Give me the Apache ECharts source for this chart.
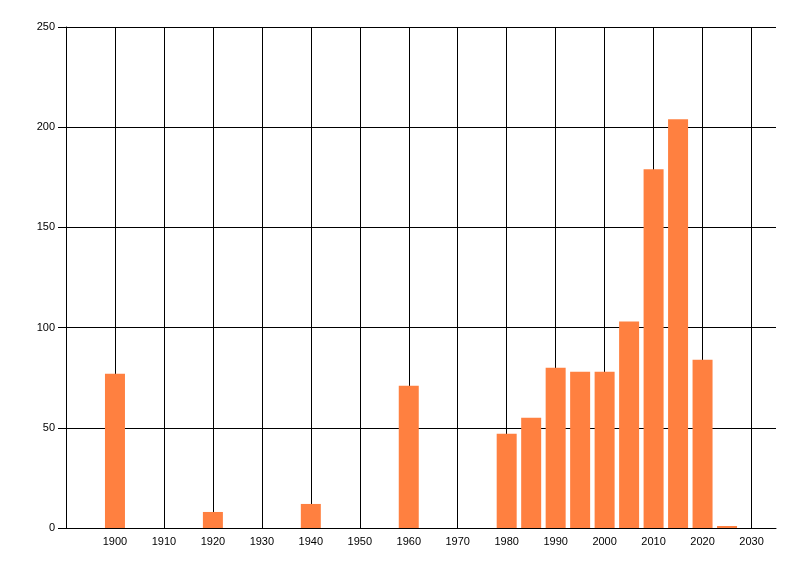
<!DOCTYPE html>
<html>
<head>
<meta charset="utf-8">
<script src="https://cdn.jsdelivr.net/npm/echarts@6/dist/echarts.min.js"></script>
<style>html,body{margin:0;padding:0;background:#fff}#c{width:800px;height:576px}</style>
</head>
<body>
<div id="c"></div>
<script>
var years = [1900, 1920, 1940, 1960, 1980, 1985, 1990, 1995, 2000, 2005, 2010, 2015, 2020, 2025];
var counts = [77, 8, 12, 71, 47, 55, 80, 78, 78, 103, 179, 204, 84, 1];
var yTicks = [0, 50, 100, 150, 200, 250];

var chart = echarts.init(document.getElementById('c'), null, {renderer: 'canvas'});
var data = years.map(function (y, i) { return [y, counts[i]]; });
chart.setOption({
  animation: false,
  grid: {left: 66, right: 24, top: 27, bottom: 48, containLabel: false},
  xAxis: {
    type: 'value', min: 1890, max: 2035, interval: 10,
    axisLine: {show: true, onZero: false, lineStyle: {color: '#000', width: 1}},
    axisTick: {show: false},
    axisLabel: {
      color: '#000', fontFamily: 'Liberation Sans, Arial, sans-serif', fontSize: 11, margin: 8,
      formatter: function (v) { return (v >= 1900 && v <= 2030 && v % 10 === 0) ? String(v) : ''; }
    },
    splitLine: {show: true, showMinLine: false, showMaxLine: false, lineStyle: {color: '#000', width: 1}}
  },
  yAxis: {
    type: 'value', min: 0, max: 250, interval: 50,
    axisLine: {show: true, lineStyle: {color: '#000', width: 1}},
    axisTick: {show: true, length: 8, lineStyle: {color: '#000'}},
    axisLabel: {color: '#000', fontFamily: 'Liberation Sans, Arial, sans-serif', fontSize: 11, margin: 11,
      customValues: yTicks},
    splitLine: {show: true, lineStyle: {color: '#000', width: 1}}
  },
  series: [{
    type: 'bar', data: data, barWidth: 20,
    itemStyle: {color: '#FF8040'}
  }]
});
</script>
</body>
</html>
